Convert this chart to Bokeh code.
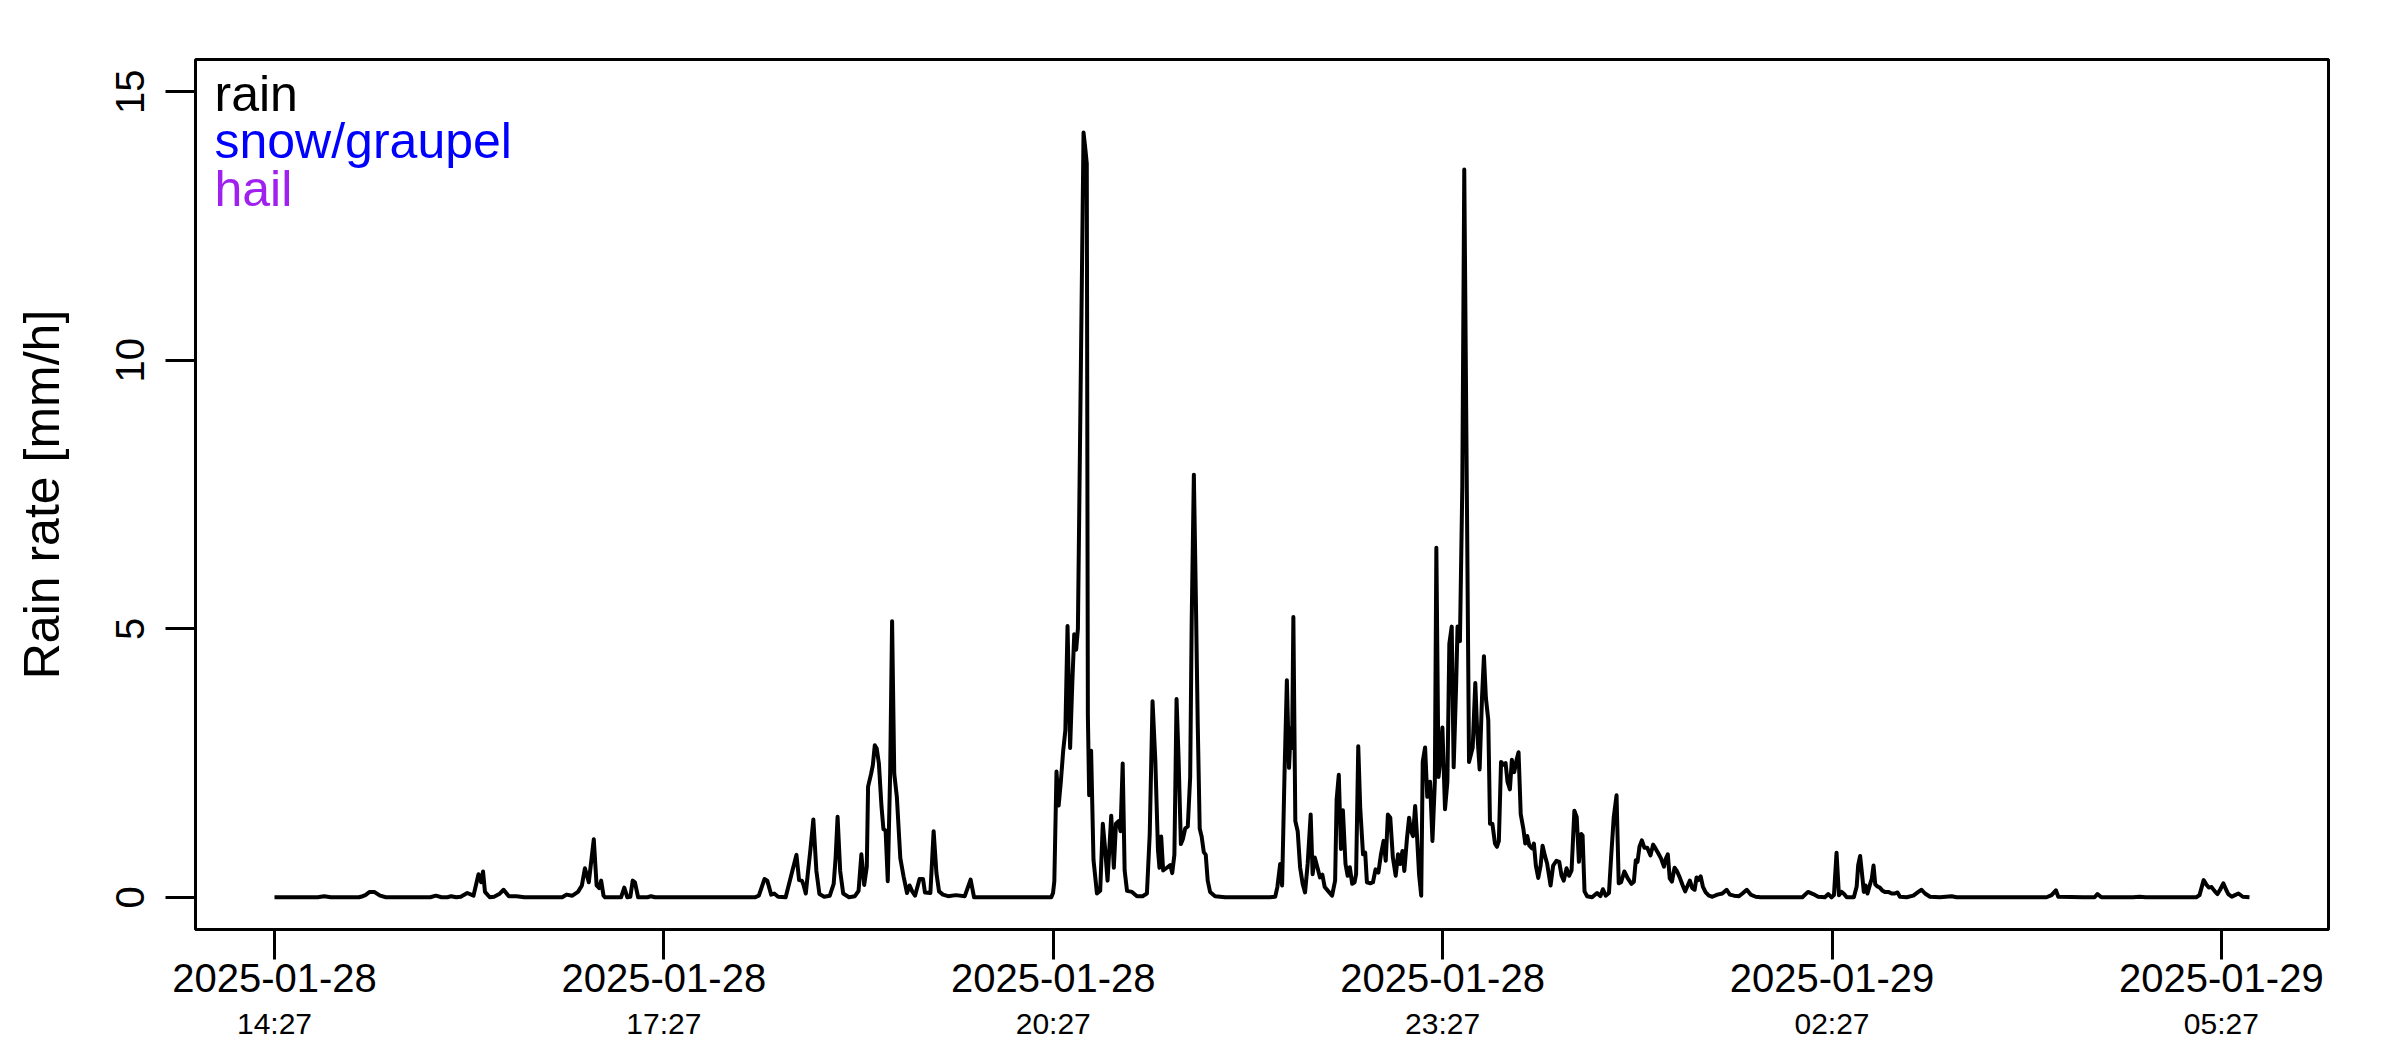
import calendar
from datetime import datetime
from bokeh.plotting import figure
from bokeh.models import Range1d, FixedTicker, LinearAxis, Label, ColumnDataSource
from bokeh.embed import file_html
from bokeh.resources import INLINE

# ---------------- data ----------------
start_time = datetime(2025, 1, 28, 14, 27)

minutes = [
    0, 20, 23, 26, 39, 40.8, 42, 44, 46.1, 48.8, 51.5, 72, 74.6, 77.2, 80, 81.7, 84, 86.1,
    89.1, 92, 94.3, 95.5, 96.4, 97.3, 99.5, 101.5, 103.9, 105.9, 108.3, 111.9, 115.5, 133,
    135, 137.7, 140.3, 142.1, 143.5, 145.3, 147.6, 148.9, 150.1, 151, 152.1, 152.8, 160.2,
    161.7, 163.1, 164.5, 165.6, 166.6, 168.1, 172.5, 174.1, 175.9, 222.1, 223.9, 226.5,
    227.8, 229.6, 231, 232.8, 236.3, 239, 241.3, 242.5, 243.8, 244.5, 245.6, 246.6, 247.7,
    249.1, 250.5, 251.9, 254.1, 256.7, 258.5, 259.4, 260.3, 261.5, 262.9, 265.6, 268.3, 270,
    271.3,
    272.6, 273.8, 274.4, 275.8, 276.6, 277.5, 278.4, 279.4, 280.6, 281.5, 282.5, 283.5,
    284.6, 285.5, 286.5, 287.7, 289.3, 290.8, 292.4, 293.6, 294.8, 296.1, 298.2, 299.8,
    300.7, 303.2, 304.7, 306, 307.2, 309, 311.4, 315, 319.1, 321.8, 323.4, 359.1, 359.9,
    360.5, 361.5, 362.5, 363.5, 364.6, 365.6, 366.6, 367.8, 368.8, 369.7, 370.6, 371.4,
    374, 374.8, 375.5, 376, 376.6, 377.5, 378.6, 380.2, 381.7, 382.9, 384, 385.1, 386.8,
    388, 389, 390.2, 391.1, 392.1, 393, 394.1, 396.4, 398.7, 401.3, 403.3, 404.6, 405.9,
    407.2, 408.4, 409.1, 409.9, 410.8, 412.5, 414.1, 415, 416, 417, 417.9, 419, 419.9, 421,
    422.2, 423.3, 424, 425, 425.9, 426.8, 427.7, 428.6, 429.6, 430.5, 431.4, 432.5, 434.8,
    439.4, 460,
    462.6, 463.6, 464.9, 465.8, 466.9, 468, 469, 469.8, 470.4, 471, 471.9, 473, 474.1,
    475.3, 476.4, 477.6, 479, 479.9, 480.9, 482.1, 483.3, 484.4, 485.5, 487.2, 488.9, 490.3,
    491, 492, 493, 493.9, 495.1, 496.1, 497.1, 498.2, 499.3, 500, 501, 501.9, 503.2, 504.2,
    505, 506.6, 507.8, 509, 510.3, 511.5, 512.7, 513.7, 514.7, 515.8, 517, 518.3, 519.4,
    520.4, 521.4, 522.3, 523.5, 524.5, 525.4, 526.3, 527.3, 528.2, 529.1, 530.1,
    530.8, 531.9, 532.9, 534.2, 535.3, 536.4, 537.1, 538.1, 538.8, 539.9, 541.1, 542.2,
    543.1, 544.2, 545.1, 546.2, 546.9, 548, 549.1, 550, 552.2, 553.9, 555.1, 556, 557.1,
    558.2, 559.1, 560, 561.1, 561.9, 563, 564.2, 565.1, 566, 567, 568.1, 569.1, 570, 571.1,
    572, 573.1, 574.2, 575.1, 576.1, 577.3, 578.2, 579.1, 580.1, 581.3, 582.2, 583.1, 584.2,
    585.3, 586.2, 587.3, 588.3, 589.9, 591.1, 592.6, 593.9, 595, 596, 597.3, 598.5, 599.6,
    600.9, 602, 603, 604.1, 604.7, 605.6, 606.8, 609.1, 611.4, 612.9, 614.1, 615.4, 616.9,
    617.9, 619.1, 620.4, 621.4, 622.5, 624, 625.6, 627.3, 628.4, 629.3, 630.1, 631, 632.1,
    633.3, 634.6, 636.1, 637.3, 638.4, 639.8, 641, 642.3, 643.2, 644.1, 645, 646, 647.2,
    648.4, 649.6, 650.9, 652.1, 653.1, 654.3, 655.4, 656.5, 657.4, 658.2, 659.3, 660.3,
    661.6, 663.1, 664.7, 667, 669.3, 671.3, 672.8, 674.7, 677, 678.6, 680.6, 682.4, 684.7,
    687, 706.3,
    708.9, 711.3, 713.6, 716.7, 718.3, 719.8, 720.9, 722.1, 723.2, 724.4, 725.6, 726.8,
    730.1, 731.4, 732.1, 733, 734.1, 734.7, 735.5, 736.4, 737.5, 738.4, 739.2, 740, 741,
    742.1, 743.4, 744.4, 746, 747.6, 749.1, 750.3, 751.4, 754.5, 757.6, 759.9, 761.4, 763,
    765.3, 769.9, 775.3, 777.6, 819.2, 821.5, 823.5, 824.6, 836.1, 841.4, 842.7, 844.5,
    859.1, 862.2, 865, 888.4, 889.9, 891.8, 893, 894.2, 895.5, 896.8, 898.2, 899.4, 900.9,
    902.2, 903.2, 904.8, 906.3, 907.9, 909.9, 913,
]

rain_rate = [
    0, 0, 0.02, 0, 0, 0.02, 0.04, 0.1, 0.1, 0.03, 0, 0, 0.03, 0, 0, 0.02, 0, 0.01,
    0.08, 0.03, 0.43, 0.28, 0.48, 0.1, 0, 0.01, 0.06, 0.14, 0.02, 0.02, 0, 0,
    0.05, 0.03, 0.1, 0.22, 0.54, 0.28, 1.08, 0.22, 0.17, 0.31, 0.03, 0, 0,
    0.18, 0, 0.01, 0.31, 0.28, 0, 0, 0.02, 0, 0, 0.03, 0.34,
    0.31, 0.05, 0.07, 0.01, 0, 0.43, 0.79, 0.32, 0.31, 0.24, 0.07, 0.46, 0.87,
    1.45, 0.49, 0.06, 0.01, 0.03, 0.25, 0.74, 1.5, 0.49, 0.07, 0, 0.02, 0.12,
    0.8,
    0.23, 0.57, 2.06, 2.3, 2.46, 2.83, 2.77, 2.49, 1.69, 1.27, 1.24, 0.3,
    2.3, 5.14, 2.3, 1.87, 0.73, 0.39, 0.08, 0.22, 0.11, 0.03, 0.34, 0.34,
    0.09, 0.08, 1.23, 0.45, 0.11, 0.05, 0.02, 0.04, 0.02, 0.33, 0, 0, 0.08,
    0.3, 2.34, 1.71, 2.15, 2.73, 3.11, 5.05, 2.78, 3.98, 4.9, 4.61, 5.0,
    14.24, 13.95, 13.66, 3.4, 1.9, 2.73, 0.7, 0.07, 0.12, 1.37, 0.89, 0.31, 1.52,
    0.55, 1.37, 1.42, 1.23, 2.49, 0.5, 0.12, 0.1, 0.02, 0.02, 0.07, 1.18, 3.65,
    2.53, 0.89, 0.55, 1.13, 0.5, 0.55, 0.6, 0.45, 0.79, 3.69, 2.63, 0.99, 1.08, 1.28,
    1.32, 2.24, 5.15, 7.87, 5.63, 3.21, 1.28, 1.13, 0.84, 0.79, 0.31, 0.1, 0.02,
    0, 0,
    0.01, 0.19, 0.62, 0.22, 2.28, 4.04, 2.41, 3.15, 2.78, 5.22, 1.42, 1.23, 0.56,
    0.25, 0.09, 0.62, 1.54, 0.43, 0.74, 0.56, 0.37, 0.42, 0.19, 0.11, 0.03, 0.31,
    1.82, 2.28, 0.9, 1.62, 0.62, 0.4, 0.56, 0.25, 0.28, 0.43, 2.81, 1.67, 0.8, 0.83,
    0.28, 0.26, 0.28, 0.52, 0.46, 0.8, 1.05, 0.68, 1.54, 1.48, 0.74, 0.4, 0.8,
    0.62, 0.86, 0.49, 1.09, 1.48, 1.23, 1.14, 1.7, 1.11, 0.43, 0.03,
    2.52, 2.79, 1.87, 2.15, 1.05, 2.15, 6.51, 2.24, 2.52, 3.16, 1.64, 2.15,
    4.72, 5.04, 2.42, 3.89, 5.04, 4.77, 7.66, 13.55, 2.52, 2.79, 3.99, 3.07, 2.38,
    3.71, 4.49, 3.71, 3.3, 1.37, 1.37, 1.0, 0.94, 1.05, 2.52, 2.47, 2.5, 2.15, 2.01,
    2.56, 2.33, 2.56, 2.7, 1.55, 1.28, 1.0, 1.14, 0.96, 0.91, 1.0, 0.59, 0.36,
    0.59, 0.96, 0.77, 0.63, 0.22, 0.59, 0.68, 0.66, 0.4, 0.31, 0.54, 0.4, 0.5,
    1.61, 1.49, 0.66, 1.18, 1.15, 0.11, 0.02, 0, 0.08, 0.02, 0.15, 0.03, 0.08,
    0.75, 1.49, 1.9, 0.26, 0.28, 0.48, 0.35, 0.25, 0.29, 0.69, 0.66, 0.94, 1.06,
    0.92, 0.92, 0.78, 0.98, 0.91, 0.81, 0.72, 0.57, 0.72, 0.8, 0.35, 0.29, 0.55,
    0.48, 0.37, 0.23, 0.11, 0.2, 0.31, 0.17, 0.14, 0.37, 0.32, 0.39, 0.2,
    0.09, 0.03, 0.01, 0.05, 0.07, 0.14, 0.05, 0.03, 0.02, 0.07, 0.14, 0.05, 0.01,
    0, 0,
    0.1, 0.06, 0.01, 0, 0.06, 0, 0.04, 0.83, 0.04, 0.1, 0.06, 0,
    0, 0.2, 0.6, 0.77, 0.35, 0.1, 0.22, 0.07, 0.23, 0.35, 0.59, 0.24, 0.2,
    0.18, 0.12, 0.1, 0.1, 0.07, 0.07, 0.09, 0.01, 0, 0.03, 0.1, 0.14, 0.07,
    0.01, 0, 0.02, 0, 0, 0.04, 0.13, 0.01, 0, 0, 0.06, 0,
    0, 0.01, 0, 0, 0.04, 0.32, 0.24, 0.18, 0.19, 0.12, 0.06, 0.14, 0.26,
    0.14, 0.06, 0.01, 0.04, 0.07, 0.01, 0,
]

tick_minutes = [0, 180, 360, 540, 720, 900]
date_labels = ["2025-01-28", "2025-01-28", "2025-01-28", "2025-01-28", "2025-01-29", "2025-01-29"]
time_labels = ["14:27", "17:27", "20:27", "23:27", "02:27", "05:27"]
y_ticks = [0, 5, 10, 15]
y_limits = [0, 15]
legend_labels = ["rain", "snow/graupel", "hail"]
legend_colors = ["#000000", "#0000FF", "#A020F0"]

# ---------------- build ----------------
t0_ms = calendar.timegm(start_time.timetuple()) * 1000
x_ms = [t0_ms + m * 60000 for m in minutes]
tick_ms = [t0_ms + m * 60000 for m in tick_minutes]

span = x_ms[-1] - x_ms[0]
ypad = 0.04 * (y_limits[1] - y_limits[0])

FONT = "Liberation Sans"

p = figure(width=2392, height=1042, output_backend="svg", toolbar_location=None,
           x_axis_type=None, y_axis_type=None,
           x_range=Range1d(x_ms[0] - 0.04 * span, x_ms[-1] + 0.04 * span),
           y_range=Range1d(y_limits[0] - ypad, y_limits[1] + ypad))
p.min_border = 0
p.min_border_left = 195
p.min_border_right = 64
p.min_border_top = 59
p.min_border_bottom = 113
p.outline_line_color = "black"
p.outline_line_width = 3
p.outline_line_alpha = 1.0
p.background_fill_color = "white"
p.border_fill_color = "white"

src = ColumnDataSource(dict(x=x_ms, y=rain_rate))
p.line("x", "y", source=src, line_color="black", line_width=4, line_join="round")

# y axis
yax = LinearAxis(ticker=FixedTicker(ticks=y_ticks))
yax.axis_label = "Rain rate [mm/h]"
yax.axis_label_text_font = FONT
yax.axis_label_text_font_size = "50px"
yax.axis_label_text_font_style = "normal"
yax.axis_label_text_color = "black"
yax.axis_label_standoff = 44
yax.major_label_text_font = FONT
yax.major_label_text_font_size = "40px"
yax.major_label_text_color = "black"
yax.major_label_orientation = "parallel"
yax.major_label_standoff = 21
yax.major_tick_out = 30
yax.major_tick_in = 0
yax.major_tick_line_width = 3
yax.major_tick_line_color = "black"
yax.minor_tick_line_color = None
yax.axis_line_color = None
p.add_layout(yax, "left")

# x axis: dates
xax = LinearAxis(ticker=FixedTicker(ticks=tick_ms))
xax.major_label_overrides = {t: d for t, d in zip(tick_ms, date_labels)}
xax.major_label_text_font = FONT
xax.major_label_text_font_size = "40px"
xax.major_label_text_color = "black"
xax.major_label_standoff = 4
xax.major_tick_out = 30
xax.major_tick_in = 0
xax.major_tick_line_width = 3
xax.major_tick_line_color = "black"
xax.minor_tick_line_color = None
xax.axis_line_color = None
p.add_layout(xax, "below")

# x axis: times (second line)
xax2 = LinearAxis(ticker=FixedTicker(ticks=tick_ms))
xax2.major_label_overrides = {t: s for t, s in zip(tick_ms, time_labels)}
xax2.major_label_text_font = FONT
xax2.major_label_text_font_size = "30px"
xax2.major_label_text_color = "black"
xax2.major_label_standoff = 12
xax2.major_tick_out = 0
xax2.major_tick_in = 0
xax2.major_tick_line_color = None
xax2.minor_tick_line_color = None
xax2.axis_line_color = None
p.add_layout(xax2, "below")

# text-only legend (top-left inside the frame)
legend_y = [836, 789, 741]
for lbl, col, yy in zip(legend_labels, legend_colors, legend_y):
    p.add_layout(Label(x=19, y=yy, x_units="screen", y_units="screen", text=lbl,
                       text_color=col, text_font=FONT, text_font_size="50px",
                       text_baseline="alphabetic", text_align="left"))

p.xgrid.visible = False
p.ygrid.visible = False

open("out.html", "w").write(file_html(p, INLINE))
